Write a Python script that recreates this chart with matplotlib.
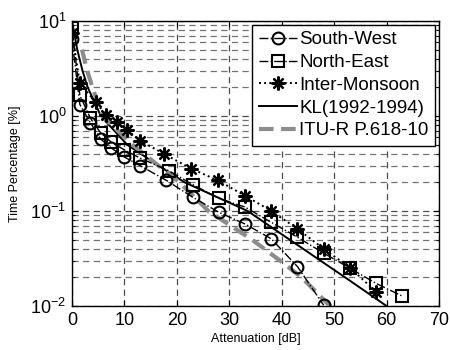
import numpy as np
import matplotlib
matplotlib.use("Agg")
import matplotlib.pyplot as plt
from matplotlib.ticker import LogLocator, FixedLocator

plt.rcParams['font.family'] = ['Liberation Sans', 'DejaVu Sans']
plt.rcParams['mathtext.fontset'] = 'custom'
plt.rcParams['mathtext.rm'] = 'Liberation Sans'
plt.rcParams['mathtext.it'] = 'Liberation Sans:italic'

# measured exceedance curves, attenuation in dB vs time percentage
sw_att = [0, 1.5, 3.5, 5.5, 7.5, 10, 13, 18, 23, 28, 33, 38, 43, 48]
sw_pct = [6.4, 1.32, 0.85, 0.57, 0.46, 0.37, 0.30, 0.21, 0.14, 0.097, 0.073, 0.051, 0.026, 0.0102]

ne_att = [0, 1.5, 3.5, 5.5, 7.5, 10, 13, 18.5, 23, 28, 33, 38, 43, 48, 53, 58, 63]
ne_pct = [8.5, 1.65, 0.95, 0.66, 0.53, 0.44, 0.36, 0.265, 0.19, 0.136, 0.11, 0.076, 0.053, 0.036, 0.025, 0.0173, 0.0127]

im_att = [0, 1.5, 4.5, 6.5, 8.5, 10.5, 13, 17.5, 22.7, 27.8, 33, 38, 43, 48, 53, 58]
im_pct = [7.5, 2.2, 1.4, 1.02, 0.87, 0.71, 0.55, 0.40, 0.28, 0.21, 0.145, 0.10, 0.065, 0.040, 0.0254, 0.0141]

kl_pct = [10, 5, 3, 2, 1, 0.5, 0.3, 0.2, 0.1, 0.05, 0.03, 0.02, 0.01]
kl_att = [0, 1, 2, 3, 5.5, 10.5, 16.5, 21.5, 33.5, 41.5, 47.4, 52.1, 60]

itu_pct = [5, 3, 2, 1, 0.5, 0.3, 0.2, 0.1, 0.05, 0.03, 0.02, 0.01]
itu_att = [1.9, 2.9, 3.9, 5.8, 11.5, 16.5, 20.5, 26, 34.3, 39.7, 43.8, 49.2]

fig = plt.figure(figsize=(4.5, 3.5), dpi=100)
ax = fig.add_axes([0.16, 0.1257, 0.8156, 0.8143])

asterisk = (8, 2, 0)  # plus and cross overlaid

ax.semilogy(sw_att, sw_pct, '-.', color='k', lw=1, marker='o', ms=8.5,
            mfc='none', mew=1.5, label='South-West', zorder=4)
ax.semilogy(ne_att, ne_pct, '-.', color='k', lw=1, marker='s', ms=8,
            mfc='none', mew=1.5, label='North-East', zorder=4)
ax.semilogy(im_att, im_pct, ':', color='k', lw=1.4, marker=asterisk, ms=10,
            mew=1.6, label='Inter-Monsoon', zorder=4)
ax.semilogy(kl_att, kl_pct, '-', color='k', lw=1.4, label='KL(1992-1994)', zorder=3)
ax.semilogy(itu_att, itu_pct, '--', color='0.55', lw=3, dashes=(3.5, 1.8),
            label='ITU-R P.618-10', zorder=3)

ax.set_xlim(0, 70)
ax.set_ylim(1e-2, 1e1)
ax.xaxis.set_major_locator(FixedLocator(np.arange(0, 71, 10)))
ax.yaxis.set_major_locator(LogLocator(base=10))
ax.yaxis.set_minor_locator(LogLocator(base=10, subs=np.arange(2, 10)))

ax.grid(True, which='major', ls=(0, (5, 3.5)), color='0.3', lw=0.9)
ax.grid(True, which='minor', axis='y', ls=(0, (5, 3.5)), color='0.45', lw=0.9)

ax.tick_params(which='both', direction='in', top=True, right=True, labelsize=13)
ax.tick_params(which='major', length=4, pad=4)
ax.tick_params(which='minor', length=2.5)
for s in ax.spines.values():
    s.set_linewidth(1.0)

ax.set_xlabel('Attenuation [dB]', fontsize=9, labelpad=3)
ax.set_ylabel('Time Percentage [%]', fontsize=9, labelpad=7)

leg = ax.legend(loc='upper right', fontsize=13.5, handlelength=2.0,
                handletextpad=0.15, labelspacing=0.3, borderpad=0.35,
                borderaxespad=0.2, fancybox=False, framealpha=1,
                edgecolor='k')
leg.get_frame().set_linewidth(1.0)

fig.savefig('out.png', dpi=100)
